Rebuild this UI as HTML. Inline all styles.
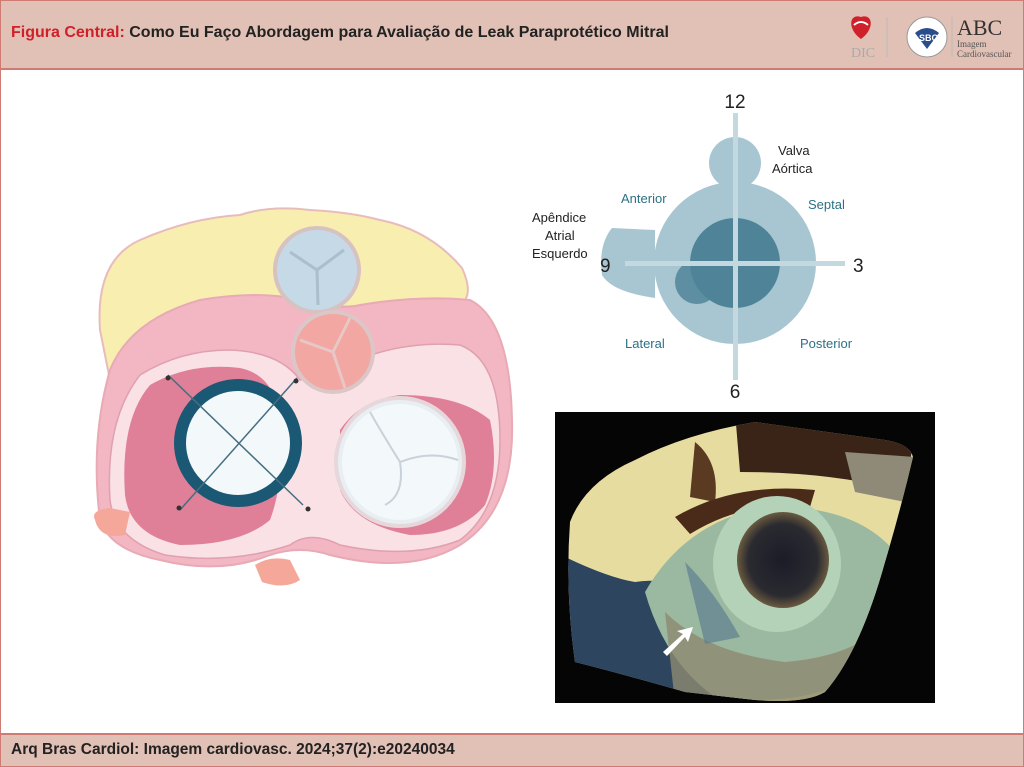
<!DOCTYPE html>
<html><head><meta charset="utf-8"><style>
html,body{margin:0;padding:0;}
body{width:1024px;height:765px;position:relative;background:#fff;font-family:"Liberation Sans",sans-serif;overflow:hidden;}
.hdr{position:absolute;left:0;top:0;width:1022px;height:67px;background:#e1c0b5;border:1px solid #cf7a72;border-bottom:2px solid #cf7a72;}
.hdr .t{position:absolute;left:10px;top:23px;font-size:16px;font-weight:bold;color:#222;letter-spacing:0;}
.hdr .t span{color:#d0202a;}
.ftr{position:absolute;left:0;top:733px;width:1022px;height:31px;background:#e1c0b5;border:1px solid #cf7a72;border-top:2px solid #cf7a72;}
.ftr .t{position:absolute;left:10px;top:6px;font-size:15.5px;font-weight:bold;color:#222;letter-spacing:0;}
.side{position:absolute;top:69px;height:664px;width:1px;background:#cf7a72;}
</style></head><body>
<div class="hdr"><div class="t"><span>Figura Central:</span> Como Eu Faço Abordagem para Avaliação de Leak Paraprotético Mitral</div>
<svg style="position:absolute;left:840px;top:8px" width="180" height="55">
<path d="M20 30 C6 20 8 4 20 8 C32 4 34 20 20 30 Z" fill="#d0202a"/>
<path d="M13 16 Q20 10 27 16" stroke="#fff" stroke-width="2" fill="none"/>
<text x="10" y="48" font-family="Liberation Serif" font-size="14" fill="#aaa">DIC</text>
<line x1="46" y1="8" x2="46" y2="48" stroke="#bbb"/>
<circle cx="86" cy="28" r="20" fill="#fff" stroke="#999"/>
<path d="M74 24 Q86 14 98 24 L86 40 Z" fill="#2b4d8c"/>
<text x="78" y="32" font-size="9" font-weight="bold" fill="#fff">SBC</text>
<line x1="111" y1="8" x2="111" y2="48" stroke="#bbb"/>
<text x="116" y="26" font-family="Liberation Serif" font-size="22" fill="#333">ABC</text>
<text x="116" y="38" font-family="Liberation Serif" font-size="9" fill="#555">Imagem</text>
<text x="116" y="48" font-family="Liberation Serif" font-size="9" fill="#555">Cardiovascular</text>
</svg></div>
<div class="side" style="left:0"></div><div class="side" style="left:1023px"></div>

<svg style="position:absolute;left:0;top:0" width="540" height="620">
<path d="M100 330 Q95 260 140 240 Q190 218 240 215 Q270 205 310 210 Q350 212 380 220 Q430 230 462 268 Q472 290 465 300 L110 380 Z" fill="#f7eeb0" stroke="#e8bcbc" stroke-width="2"/>
<path d="M100 520 Q90 440 110 370 Q130 320 200 300 Q260 290 300 300 Q340 310 360 305 Q420 295 470 300 Q510 320 512 420 Q515 510 460 545 Q410 575 330 555 Q300 545 270 555 Q220 575 160 560 Q110 550 100 520 Z" fill="#f2b7c2" stroke="#e8aab5" stroke-width="2"/>
<path d="M110 500 Q105 420 140 375 Q180 350 230 350 Q280 352 300 380 Q330 372 345 365 Q400 340 460 345 Q500 360 500 440 Q500 510 460 540 Q410 560 340 545 Q310 530 290 545 Q230 565 165 555 Q115 540 110 500 Z" fill="#f9e1e6" stroke="#e0a0ae" stroke-width="1.5"/>
<path d="M125 495 Q120 420 150 385 Q190 362 240 368 Q275 375 280 420 Q285 480 270 520 Q240 545 180 545 Q130 535 125 495 Z" fill="#e07f98"/>
<path d="M340 430 Q360 400 400 395 Q460 395 490 420 Q500 470 485 505 Q460 535 410 535 Q355 525 340 490 Z" fill="#e07f98"/>
<path d="M95 520 Q90 510 110 508 L130 512 L125 535 Q100 540 95 520 Z" fill="#f5a79a"/>
<path d="M255 565 Q270 555 290 560 L300 580 Q285 590 262 582 Z" fill="#f5a79a"/>
<circle cx="317" cy="270" r="42" fill="#c6d9e6" stroke="#d7c2c2" stroke-width="4"/>
<path d="M317 270 L290 252 M317 270 L344 250 M317 270 L318 305" stroke="#a9bfcd" stroke-width="3"/>
<circle cx="333" cy="352" r="40" fill="#f2a7a2" stroke="#dbc7c7" stroke-width="4"/>
<path d="M333 352 L300 340 M333 352 L350 318 M333 352 L345 388" stroke="#e7c7c7" stroke-width="3"/>
<circle cx="400" cy="462" r="64" fill="#e9eef2" stroke="#e6d7db" stroke-width="4"/>
<circle cx="400" cy="462" r="58" fill="#f3f8fb"/>
<path d="M400 462 Q380 430 370 412 M400 462 Q430 450 458 460 M400 462 Q405 495 385 505" stroke="#c8d2d8" stroke-width="2" fill="none"/>
<circle cx="238" cy="443" r="58" fill="#f3f8fb" stroke="#1b5873" stroke-width="12"/>
<line x1="168" y1="375" x2="303" y2="505" stroke="#456e80" stroke-width="1.5"/>
<line x1="297" y1="378" x2="180" y2="510" stroke="#456e80" stroke-width="1.5"/>
<circle cx="168" cy="378" r="2.5" fill="#333"/><circle cx="296" cy="381" r="2.5" fill="#333"/>
<circle cx="179" cy="508" r="2.5" fill="#333"/><circle cx="308" cy="509" r="2.5" fill="#333"/>
</svg>

<svg style="position:absolute;left:0;top:0" width="1024" height="420" font-family="Liberation Sans">
<path d="M655 230 L612 228 Q598 245 602 275 Q612 292 655 298 Z" fill="#a7c6d1"/>
<circle cx="735" cy="163" r="26" fill="#a7c6d1"/>
<circle cx="735" cy="263" r="81" fill="#a7c6d1"/>
<circle cx="697" cy="282" r="22" fill="#5d8ea2"/>
<circle cx="735" cy="263" r="45" fill="#4f8498"/>
<rect x="733" y="113" width="5" height="267" fill="#c4d8df"/>
<rect x="625" y="261" width="220" height="5" fill="#c4d8df"/>
<text x="735" y="108" font-size="19" text-anchor="middle" fill="#222">12</text>
<text x="735" y="398" font-size="19" text-anchor="middle" fill="#222">6</text>
<text x="853" y="272" font-size="19" fill="#222">3</text>
<text x="600" y="272" font-size="19" fill="#222">9</text>
<text x="778" y="155" font-size="13" fill="#222">Valva</text>
<text x="772" y="173" font-size="13" fill="#222">Aórtica</text>
<text x="532" y="222" font-size="13" fill="#222">Apêndice</text>
<text x="545" y="240" font-size="13" fill="#222">Atrial</text>
<text x="532" y="258" font-size="13" fill="#222">Esquerdo</text>
<text x="621" y="203" font-size="13" fill="#2c7186">Anterior</text>
<text x="808" y="209" font-size="13" fill="#2c7186">Septal</text>
<text x="625" y="348" font-size="13" fill="#2c7186">Lateral</text>
<text x="800" y="348" font-size="13" fill="#2c7186">Posterior</text>
</svg>

<svg style="position:absolute;left:555px;top:412px" width="380" height="291">
<rect width="380" height="291" fill="#050505"/>
<defs>
<radialGradient id="g1" cx="0.5" cy="0.5" r="0.5"><stop offset="0" stop-color="#1a1c28"/><stop offset="0.75" stop-color="#2a2a30"/><stop offset="1" stop-color="#6a5a40"/></radialGradient>
<clipPath id="c"><path d="M15 110 Q30 70 80 48 Q130 22 200 10 L330 28 Q355 32 358 45 Q345 100 330 150 Q305 240 270 280 Q250 292 200 288 L130 280 Q60 260 20 250 Q10 180 15 110 Z"/></clipPath>
</defs>
<g clip-path="url(#c)">
<rect width="380" height="291" fill="#e6dca0"/>
<path d="M180 0 L360 20 L350 80 Q280 60 185 60 Z" fill="#3a2418"/>
<path d="M290 40 L360 45 L350 90 L300 80 Z" fill="#8f8a78"/>
<path d="M140 30 Q165 50 160 90 L135 85 Z" fill="#5a3a20"/>
<path d="M0 140 Q50 165 80 170 Q110 165 130 180 L180 291 L0 291 Z" fill="#2e4560"/>
<path d="M90 180 Q130 110 210 95 Q300 92 340 140 Q330 230 290 270 Q240 295 160 285 Q110 250 90 180 Z" fill="#9ab9a0"/>
<path d="M110 200 Q150 240 230 250 Q290 245 320 220 L300 291 L120 291 Z" fill="#8d8a70" opacity="0.8"/>
<path d="M120 105 Q180 70 260 78 L255 95 Q190 88 135 122 Z" fill="#4a2a18"/>
<ellipse cx="222" cy="152" rx="64" ry="68" fill="#b3d2b8"/>
<ellipse cx="228" cy="148" rx="46" ry="48" fill="url(#g1)"/>
<path d="M130 150 Q160 180 185 225 L150 232 Z" fill="#5e7f90" opacity="0.7"/>
</g>
<path d="M108 240 L128 222 L122 219 L138 215 L133 230 L130 225 L112 244 Z" fill="#fff"/>
</svg>

<div class="ftr"><div class="t">Arq Bras Cardiol: Imagem cardiovasc. 2024;37(2):e20240034</div></div>
</body></html>
